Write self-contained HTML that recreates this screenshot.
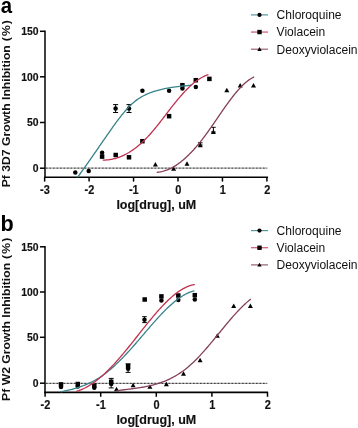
<!DOCTYPE html>
<html><head><meta charset="utf-8"><style>
html,body{margin:0;padding:0;background:#fff;}
svg{display:block}
text{font-family:"Liberation Sans",sans-serif;fill:#111}
.tk{font-size:10.4px;font-weight:bold;stroke:#111;stroke-width:0.15px}
.tkx{font-size:11.0px;font-weight:bold;stroke:#111;stroke-width:0.15px}
.ti{font-size:12.5px;font-weight:bold;stroke:#111;stroke-width:0.15px}
.tiv{font-size:12.2px;font-weight:bold}
.lg{font-size:12.05px}
.pl{font-size:20px;font-weight:bold;fill:#000}
</style></head><body>
<svg width="358" height="428" viewBox="0 0 358 428">
<rect width="358" height="428" fill="#fff"/>
<g opacity="0.999">
<text transform="translate(0.7,12.7) scale(1,1.12)" class="pl" style="font-size:20.4px">a</text>
<path d="M45.0,30.6 V177.95" stroke="#000" stroke-width="1.5" fill="none"/>
<path d="M44.25,177.2 H268.09999999999997" stroke="#000" stroke-width="1.6" fill="none"/>
<path d="M40.0,31.3 H45.0" stroke="#000" stroke-width="1.5" fill="none"/>
<text transform="translate(38.6,35.0) scale(1,1.12)" text-anchor="end" class="tk">150</text>
<path d="M40.0,76.8 H45.0" stroke="#000" stroke-width="1.5" fill="none"/>
<text transform="translate(38.6,80.5) scale(1,1.12)" text-anchor="end" class="tk">100</text>
<path d="M40.0,122.5 H45.0" stroke="#000" stroke-width="1.5" fill="none"/>
<text transform="translate(38.6,126.2) scale(1,1.12)" text-anchor="end" class="tk">50</text>
<path d="M40.0,168.2 H45.0" stroke="#000" stroke-width="1.5" fill="none"/>
<text transform="translate(38.6,171.89999999999998) scale(1,1.12)" text-anchor="end" class="tk">0</text>
<path d="M44.64999999999998,177.2 V181.6" stroke="#000" stroke-width="1.5" fill="none"/>
<text transform="translate(44.949999999999974,193.9) scale(1,1.12)" text-anchor="middle" class="tkx">-3</text>
<path d="M89.1,177.2 V181.6" stroke="#000" stroke-width="1.5" fill="none"/>
<text transform="translate(89.39999999999999,193.9) scale(1,1.12)" text-anchor="middle" class="tkx">-2</text>
<path d="M133.55,177.2 V181.6" stroke="#000" stroke-width="1.5" fill="none"/>
<text transform="translate(133.85000000000002,193.9) scale(1,1.12)" text-anchor="middle" class="tkx">-1</text>
<path d="M178.0,177.2 V181.6" stroke="#000" stroke-width="1.5" fill="none"/>
<text transform="translate(178.3,193.9) scale(1,1.12)" text-anchor="middle" class="tkx">0</text>
<path d="M222.45,177.2 V181.6" stroke="#000" stroke-width="1.5" fill="none"/>
<text transform="translate(222.75,193.9) scale(1,1.12)" text-anchor="middle" class="tkx">1</text>
<path d="M266.9,177.2 V181.6" stroke="#000" stroke-width="1.5" fill="none"/>
<text transform="translate(267.2,193.9) scale(1,1.12)" text-anchor="middle" class="tkx">2</text>
<path d="M46.0,168.2 H267.4" stroke="#000" stroke-width="1.3" stroke-dasharray="0.75,0.65" fill="none"/>
<text transform="translate(156.3,208.5) scale(1,1.0)" text-anchor="middle" class="ti">log[drug], uM</text>
<text transform="translate(10.3,187.3) rotate(-90) scale(1,0.86)" text-anchor="start" class="tiv">Pf 3D7 Growth Inhibition <tspan dx="0.6">(</tspan><tspan dx="1.1">%</tspan><tspan dx="1.0">)</tspan></text>
<path d="M251,14.90 H268" stroke="#38828a" stroke-width="1.1" fill="none" opacity="0.9"/>
<circle cx="259.5" cy="14.9" r="2.1"/>
<text transform="translate(276.6,19.30) scale(1,1.12)" class="lg">Chloroquine</text>
<path d="M251,32.05 H268" stroke="#c0324e" stroke-width="1.1" fill="none" opacity="0.9"/>
<rect x="257.30" y="29.85" width="4.4" height="4.4"/>
<text transform="translate(276.6,36.45) scale(1,1.12)" class="lg">Violacein</text>
<path d="M251,49.20 H268" stroke="#853e5b" stroke-width="1.1" fill="none" opacity="0.9"/>
<path d="M257.30,50.90 L261.70,50.90 L259.50,47.10Z"/>
<text transform="translate(276.6,53.60) scale(1,1.12)" class="lg">Deoxyviolacein</text>
<path d="M115.6,104.6 V112.5 M113.1,104.6 H118.1 M113.1,112.5 H118.1" stroke="#000" stroke-width="1.0" fill="none"/>
<path d="M129.0,104.6 V112.5 M126.5,104.6 H131.5 M126.5,112.5 H131.5" stroke="#000" stroke-width="1.0" fill="none"/>
<circle cx="75.3" cy="172.4" r="2.25"/>
<circle cx="88.7" cy="170.9" r="2.25"/>
<circle cx="102.1" cy="152.8" r="2.25"/>
<circle cx="115.6" cy="108.5" r="2.25"/>
<circle cx="129.0" cy="108.5" r="2.25"/>
<circle cx="142.4" cy="90.7" r="2.25"/>
<circle cx="169.1" cy="90.8" r="2.25"/>
<circle cx="182.4" cy="88.5" r="2.25"/>
<circle cx="195.8" cy="87.0" r="2.25"/>
<rect x="99.85" y="154.35" width="4.5" height="4.5"/>
<rect x="113.45" y="152.75" width="4.5" height="4.5"/>
<rect x="126.75" y="155.05" width="4.5" height="4.5"/>
<rect x="140.15" y="138.95" width="4.5" height="4.5"/>
<rect x="166.85" y="113.95" width="4.5" height="4.5"/>
<rect x="180.15" y="82.95" width="4.5" height="4.5"/>
<rect x="193.55" y="77.95" width="4.5" height="4.5"/>
<rect x="207.15" y="76.65" width="4.5" height="4.5"/>
<path d="M200.3,142.8 V145 M198.0,142.8 H202.60000000000002 M198.0,145 H202.60000000000002" stroke="#000" stroke-width="1.0" fill="none"/>
<path d="M213.4,127.3 V132 M211.1,127.3 H215.70000000000002 M211.1,132 H215.70000000000002" stroke="#000" stroke-width="1.0" fill="none"/>
<path d="M152.90,166.55 L157.90,166.55 L155.40,162.05Z"/>
<path d="M171.10,170.65 L176.10,170.65 L173.60,166.15Z"/>
<path d="M184.50,165.85 L189.50,165.85 L187.00,161.35Z"/>
<path d="M197.80,147.25 L202.80,147.25 L200.30,142.75Z"/>
<path d="M210.90,134.05 L215.90,134.05 L213.40,129.55Z"/>
<path d="M224.30,92.25 L229.30,92.25 L226.80,87.75Z"/>
<path d="M237.70,87.45 L242.70,87.45 L240.20,82.95Z"/>
<path d="M251.00,87.45 L256.00,87.45 L253.50,82.95Z"/>
<path d="M77.40,177.37 L78.36,176.09 L79.32,174.79 L80.28,173.49 L81.24,172.18 L82.19,170.86 L83.15,169.54 L84.11,168.20 L85.07,166.86 L86.03,165.52 L86.99,164.17 L87.95,162.81 L88.91,161.45 L89.86,160.08 L90.82,158.71 L91.78,157.33 L92.74,155.95 L93.70,154.57 L94.66,153.19 L95.62,151.80 L96.58,150.42 L97.54,149.03 L98.49,147.64 L99.45,146.24 L100.41,144.85 L101.37,143.46 L102.33,142.07 L103.29,140.68 L104.25,139.29 L105.21,137.91 L106.16,136.52 L107.12,135.14 L108.08,133.76 L109.04,132.38 L110.00,131.01 L110.96,129.65 L111.92,128.29 L112.88,126.94 L113.84,125.60 L114.79,124.27 L115.75,122.96 L116.71,121.66 L117.67,120.37 L118.63,119.10 L119.59,117.85 L120.55,116.62 L121.51,115.40 L122.46,114.22 L123.42,113.05 L124.38,111.91 L125.34,110.79 L126.30,109.70 L127.26,108.65 L128.22,107.62 L129.18,106.62 L130.14,105.65 L131.09,104.72 L132.05,103.83 L133.01,102.97 L133.97,102.15 L134.93,101.37 L135.89,100.62 L136.85,99.90 L137.81,99.22 L138.76,98.58 L139.72,97.96 L140.68,97.37 L141.64,96.80 L142.60,96.27 L143.56,95.76 L144.52,95.27 L145.48,94.80 L146.44,94.36 L147.39,93.93 L148.35,93.52 L149.31,93.13 L150.27,92.76 L151.23,92.40 L152.19,92.05 L153.15,91.72 L154.11,91.41 L155.06,91.11 L156.02,90.81 L156.98,90.54 L157.94,90.27 L158.90,90.01 L159.86,89.76 L160.82,89.53 L161.78,89.30 L162.74,89.08 L163.69,88.87 L164.65,88.67 L165.61,88.47 L166.57,88.29 L167.53,88.11 L168.49,87.94 L169.45,87.78 L170.41,87.62 L171.36,87.47 L172.32,87.32 L173.28,87.18 L174.24,87.05 L175.20,86.92 L176.16,86.79 L177.12,86.67 L178.08,86.56 L179.04,86.44 L179.99,86.33 L180.95,86.23 L181.91,86.12 L182.87,86.02 L183.83,85.92 L184.79,85.83 L185.75,85.73 L186.71,85.64 L187.66,85.54 L188.62,85.45 L189.58,85.35 L190.54,85.26 L191.50,85.17" stroke="#38828a" stroke-width="1.3" fill="none"/>
<path d="M102.70,160.04 L103.59,160.05 L104.48,160.04 L105.37,160.02 L106.26,159.97 L107.15,159.91 L108.03,159.83 L108.92,159.73 L109.81,159.61 L110.70,159.47 L111.59,159.32 L112.48,159.14 L113.37,158.95 L114.26,158.74 L115.15,158.51 L116.04,158.26 L116.93,157.99 L117.81,157.70 L118.70,157.39 L119.59,157.06 L120.48,156.72 L121.37,156.35 L122.26,155.97 L123.15,155.57 L124.04,155.15 L124.93,154.70 L125.82,154.24 L126.71,153.76 L127.59,153.26 L128.48,152.75 L129.37,152.21 L130.26,151.65 L131.15,151.07 L132.04,150.48 L132.93,149.86 L133.82,149.23 L134.71,148.57 L135.60,147.90 L136.48,147.21 L137.37,146.49 L138.26,145.76 L139.15,145.01 L140.04,144.24 L140.93,143.44 L141.82,142.63 L142.71,141.80 L143.60,140.95 L144.49,140.08 L145.38,139.19 L146.26,138.28 L147.15,137.35 L148.04,136.41 L148.93,135.44 L149.82,134.47 L150.71,133.47 L151.60,132.46 L152.49,131.43 L153.38,130.39 L154.27,129.34 L155.16,128.27 L156.04,127.19 L156.93,126.09 L157.82,124.99 L158.71,123.87 L159.60,122.74 L160.49,121.61 L161.38,120.46 L162.27,119.31 L163.16,118.15 L164.05,116.99 L164.94,115.83 L165.82,114.66 L166.71,113.50 L167.60,112.34 L168.49,111.18 L169.38,110.02 L170.27,108.87 L171.16,107.72 L172.05,106.59 L172.94,105.46 L173.83,104.34 L174.72,103.23 L175.60,102.13 L176.49,101.04 L177.38,99.96 L178.27,98.89 L179.16,97.84 L180.05,96.80 L180.94,95.78 L181.83,94.77 L182.72,93.77 L183.61,92.79 L184.49,91.83 L185.38,90.89 L186.27,89.96 L187.16,89.06 L188.05,88.17 L188.94,87.31 L189.83,86.46 L190.72,85.64 L191.61,84.84 L192.50,84.06 L193.39,83.31 L194.27,82.58 L195.16,81.88 L196.05,81.20 L196.94,80.55 L197.83,79.93 L198.72,79.33 L199.61,78.76 L200.50,78.22 L201.39,77.70 L202.28,77.21 L203.17,76.75 L204.05,76.31 L204.94,75.90 L205.83,75.52 L206.72,75.17 L207.61,74.85 L208.50,74.55" stroke="#c0324e" stroke-width="1.3" fill="none"/>
<path d="M156.70,172.28 L157.52,172.23 L158.34,172.15 L159.16,172.05 L159.97,171.93 L160.79,171.78 L161.61,171.62 L162.43,171.43 L163.25,171.22 L164.07,170.99 L164.88,170.74 L165.70,170.47 L166.52,170.18 L167.34,169.86 L168.16,169.53 L168.98,169.18 L169.80,168.80 L170.61,168.41 L171.43,167.99 L172.25,167.56 L173.07,167.10 L173.89,166.63 L174.71,166.14 L175.53,165.63 L176.34,165.10 L177.16,164.55 L177.98,163.98 L178.80,163.39 L179.62,162.79 L180.44,162.16 L181.25,161.52 L182.07,160.86 L182.89,160.19 L183.71,159.49 L184.53,158.78 L185.35,158.05 L186.17,157.31 L186.98,156.54 L187.80,155.76 L188.62,154.97 L189.44,154.15 L190.26,153.32 L191.08,152.48 L191.89,151.62 L192.71,150.74 L193.53,149.85 L194.35,148.94 L195.17,148.01 L195.99,147.08 L196.81,146.12 L197.62,145.15 L198.44,144.17 L199.26,143.17 L200.08,142.16 L200.90,141.13 L201.72,140.09 L202.54,139.03 L203.35,137.96 L204.17,136.88 L204.99,135.78 L205.81,134.68 L206.63,133.56 L207.45,132.42 L208.26,131.28 L209.08,130.13 L209.90,128.98 L210.72,127.81 L211.54,126.64 L212.36,125.46 L213.18,124.28 L213.99,123.09 L214.81,121.90 L215.63,120.71 L216.45,119.51 L217.27,118.31 L218.09,117.12 L218.91,115.92 L219.72,114.73 L220.54,113.54 L221.36,112.35 L222.18,111.17 L223.00,109.99 L223.82,108.82 L224.63,107.65 L225.45,106.49 L226.27,105.34 L227.09,104.20 L227.91,103.07 L228.73,101.94 L229.55,100.83 L230.36,99.74 L231.18,98.65 L232.00,97.58 L232.82,96.52 L233.64,95.48 L234.46,94.46 L235.27,93.45 L236.09,92.47 L236.91,91.50 L237.73,90.55 L238.55,89.62 L239.37,88.71 L240.19,87.82 L241.00,86.96 L241.82,86.12 L242.64,85.31 L243.46,84.52 L244.28,83.75 L245.10,83.02 L245.92,82.31 L246.73,81.63 L247.55,80.98 L248.37,80.36 L249.19,79.78 L250.01,79.22 L250.83,78.70 L251.64,78.21 L252.46,77.75 L253.28,77.34 L254.10,76.95" stroke="#853e5b" stroke-width="1.3" fill="none"/>
<text transform="translate(0.6,230.6) scale(1,1.05)" class="pl" style="font-size:21.6px">b</text>
<path d="M45.0,246.10000000000002 V393.15" stroke="#000" stroke-width="1.5" fill="none"/>
<path d="M44.25,392.4 H268.09999999999997" stroke="#000" stroke-width="1.6" fill="none"/>
<path d="M40.0,246.8 H45.0" stroke="#000" stroke-width="1.5" fill="none"/>
<text transform="translate(38.6,250.5) scale(1,1.12)" text-anchor="end" class="tk">150</text>
<path d="M40.0,292.0 H45.0" stroke="#000" stroke-width="1.5" fill="none"/>
<text transform="translate(38.6,295.7) scale(1,1.12)" text-anchor="end" class="tk">100</text>
<path d="M40.0,337.3 H45.0" stroke="#000" stroke-width="1.5" fill="none"/>
<text transform="translate(38.6,341.0) scale(1,1.12)" text-anchor="end" class="tk">50</text>
<path d="M40.0,383.2 H45.0" stroke="#000" stroke-width="1.5" fill="none"/>
<text transform="translate(38.6,386.9) scale(1,1.12)" text-anchor="end" class="tk">0</text>
<path d="M45.10000000000001,392.4 V396.79999999999995" stroke="#000" stroke-width="1.5" fill="none"/>
<text transform="translate(45.400000000000006,409.1) scale(1,1.12)" text-anchor="middle" class="tkx">-2</text>
<path d="M100.70000000000002,392.4 V396.79999999999995" stroke="#000" stroke-width="1.5" fill="none"/>
<text transform="translate(101.00000000000001,409.1) scale(1,1.12)" text-anchor="middle" class="tkx">-1</text>
<path d="M156.3,392.4 V396.79999999999995" stroke="#000" stroke-width="1.5" fill="none"/>
<text transform="translate(156.60000000000002,409.1) scale(1,1.12)" text-anchor="middle" class="tkx">0</text>
<path d="M211.9,392.4 V396.79999999999995" stroke="#000" stroke-width="1.5" fill="none"/>
<text transform="translate(212.20000000000002,409.1) scale(1,1.12)" text-anchor="middle" class="tkx">1</text>
<path d="M267.5,392.4 V396.79999999999995" stroke="#000" stroke-width="1.5" fill="none"/>
<text transform="translate(267.8,409.1) scale(1,1.12)" text-anchor="middle" class="tkx">2</text>
<path d="M46.0,383.3 H267.4" stroke="#000" stroke-width="1.3" stroke-dasharray="0.75,0.65" fill="none"/>
<text transform="translate(156.3,424.0) scale(1,1.0)" text-anchor="middle" class="ti">log[drug], uM</text>
<text transform="translate(10.3,400.9) rotate(-90) scale(1,0.86)" text-anchor="start" class="tiv">Pf W2 Growth Inhibition <tspan dx="0.6">(</tspan><tspan dx="1.1">%</tspan><tspan dx="1.0">)</tspan></text>
<path d="M251,230.60 H268" stroke="#38828a" stroke-width="1.1" fill="none" opacity="0.9"/>
<circle cx="259.5" cy="230.6" r="2.1"/>
<text transform="translate(276.6,235.00) scale(1,1.12)" class="lg">Chloroquine</text>
<path d="M251,247.75 H268" stroke="#c0324e" stroke-width="1.1" fill="none" opacity="0.9"/>
<rect x="257.30" y="245.55" width="4.4" height="4.4"/>
<text transform="translate(276.6,252.15) scale(1,1.12)" class="lg">Violacein</text>
<path d="M251,264.90 H268" stroke="#853e5b" stroke-width="1.1" fill="none" opacity="0.9"/>
<path d="M257.30,266.60 L261.70,266.60 L259.50,262.80Z"/>
<text transform="translate(276.6,269.30) scale(1,1.12)" class="lg">Deoxyviolacein</text>
<path d="M111.2,378.4 V387.9 M108.7,378.4 H113.7 M108.7,387.9 H113.7" stroke="#000" stroke-width="1.0" fill="none"/>
<path d="M128.1,363.8 V372.4 M125.6,363.8 H130.6 M125.6,372.4 H130.6" stroke="#000" stroke-width="1.0" fill="none"/>
<path d="M144.5,316.7 V322.6 M142.2,316.7 H146.8 M142.2,322.6 H146.8" stroke="#000" stroke-width="1.0" fill="none"/>
<circle cx="61.0" cy="386.9" r="2.25"/>
<circle cx="77.8" cy="386.5" r="2.25"/>
<circle cx="94.3" cy="387.8" r="2.25"/>
<circle cx="111.2" cy="384.1" r="2.25"/>
<circle cx="128.1" cy="368.7" r="2.25"/>
<circle cx="144.5" cy="319.7" r="2.25"/>
<circle cx="161.4" cy="300.5" r="2.25"/>
<circle cx="178.3" cy="300.0" r="2.25"/>
<circle cx="194.8" cy="299.6" r="2.25"/>
<rect x="58.75" y="382.15" width="4.5" height="4.5"/>
<rect x="75.55" y="381.75" width="4.5" height="4.5"/>
<rect x="92.05" y="383.35" width="4.5" height="4.5"/>
<rect x="108.95" y="379.55" width="4.5" height="4.5"/>
<rect x="125.85" y="363.95" width="4.5" height="4.5"/>
<rect x="142.45" y="297.25" width="4.5" height="4.5"/>
<rect x="159.15" y="294.15" width="4.5" height="4.5"/>
<rect x="176.05" y="293.25" width="4.5" height="4.5"/>
<rect x="192.55" y="292.95" width="4.5" height="4.5"/>
<path d="M114.00,391.25 L119.00,391.25 L116.50,386.75Z"/>
<path d="M130.60,387.15 L135.60,387.15 L133.10,382.65Z"/>
<path d="M147.40,388.85 L152.40,388.85 L149.90,384.35Z"/>
<path d="M163.90,386.15 L168.90,386.15 L166.40,381.65Z"/>
<path d="M181.00,375.75 L186.00,375.75 L183.50,371.25Z"/>
<path d="M197.60,362.15 L202.60,362.15 L200.10,357.65Z"/>
<path d="M214.80,337.65 L219.80,337.65 L217.30,333.15Z"/>
<path d="M231.20,308.05 L236.20,308.05 L233.70,303.55Z"/>
<path d="M247.90,308.05 L252.90,308.05 L250.40,303.55Z"/>
<path d="M60.60,391.92 L61.72,391.69 L62.85,391.46 L63.97,391.22 L65.10,390.97 L66.22,390.72 L67.35,390.46 L68.47,390.19 L69.59,389.92 L70.72,389.63 L71.84,389.34 L72.97,389.04 L74.09,388.72 L75.22,388.40 L76.34,388.06 L77.47,387.71 L78.59,387.35 L79.71,386.98 L80.84,386.59 L81.96,386.18 L83.09,385.76 L84.21,385.33 L85.34,384.88 L86.46,384.41 L87.58,383.92 L88.71,383.42 L89.83,382.90 L90.96,382.35 L92.08,381.79 L93.21,381.21 L94.33,380.61 L95.46,379.98 L96.58,379.33 L97.70,378.66 L98.83,377.97 L99.95,377.25 L101.08,376.50 L102.20,375.73 L103.33,374.94 L104.45,374.12 L105.57,373.27 L106.70,372.40 L107.82,371.51 L108.95,370.59 L110.07,369.65 L111.20,368.69 L112.32,367.71 L113.45,366.71 L114.57,365.68 L115.69,364.64 L116.82,363.58 L117.94,362.50 L119.07,361.40 L120.19,360.28 L121.32,359.15 L122.44,358.01 L123.56,356.84 L124.69,355.67 L125.81,354.47 L126.94,353.27 L128.06,352.05 L129.19,350.82 L130.31,349.58 L131.44,348.33 L132.56,347.07 L133.68,345.79 L134.81,344.51 L135.93,343.22 L137.06,341.93 L138.18,340.62 L139.31,339.32 L140.43,338.01 L141.55,336.69 L142.68,335.37 L143.80,334.06 L144.93,332.74 L146.05,331.42 L147.18,330.11 L148.30,328.80 L149.43,327.49 L150.55,326.19 L151.67,324.90 L152.80,323.61 L153.92,322.34 L155.05,321.07 L156.17,319.81 L157.30,318.56 L158.42,317.33 L159.54,316.11 L160.67,314.91 L161.79,313.72 L162.92,312.54 L164.04,311.39 L165.17,310.25 L166.29,309.14 L167.42,308.05 L168.54,306.97 L169.66,305.92 L170.79,304.90 L171.91,303.90 L173.04,302.93 L174.16,301.98 L175.29,301.06 L176.41,300.17 L177.53,299.32 L178.66,298.49 L179.78,297.70 L180.91,296.94 L182.03,296.21 L183.16,295.52 L184.28,294.87 L185.41,294.25 L186.53,293.67 L187.65,293.14 L188.78,292.64 L189.90,292.18 L191.03,291.77 L192.15,291.41 L193.28,291.08 L194.40,290.81" stroke="#38828a" stroke-width="1.3" fill="none"/>
<path d="M75.90,391.49 L76.90,391.21 L77.90,390.89 L78.90,390.55 L79.90,390.18 L80.90,389.79 L81.89,389.38 L82.89,388.93 L83.89,388.47 L84.89,387.98 L85.89,387.46 L86.89,386.92 L87.89,386.36 L88.89,385.77 L89.89,385.16 L90.89,384.53 L91.89,383.88 L92.89,383.20 L93.88,382.50 L94.88,381.78 L95.88,381.04 L96.88,380.28 L97.88,379.49 L98.88,378.69 L99.88,377.86 L100.88,377.02 L101.88,376.15 L102.88,375.27 L103.88,374.36 L104.88,373.44 L105.87,372.50 L106.87,371.54 L107.87,370.56 L108.87,369.57 L109.87,368.56 L110.87,367.53 L111.87,366.48 L112.87,365.42 L113.87,364.34 L114.87,363.25 L115.87,362.14 L116.87,361.03 L117.86,359.89 L118.86,358.75 L119.86,357.60 L120.86,356.43 L121.86,355.25 L122.86,354.07 L123.86,352.87 L124.86,351.67 L125.86,350.45 L126.86,349.23 L127.86,348.01 L128.86,346.77 L129.85,345.53 L130.85,344.29 L131.85,343.04 L132.85,341.79 L133.85,340.53 L134.85,339.27 L135.85,338.01 L136.85,336.75 L137.85,335.49 L138.85,334.22 L139.85,332.96 L140.85,331.70 L141.84,330.43 L142.84,329.18 L143.84,327.92 L144.84,326.67 L145.84,325.42 L146.84,324.18 L147.84,322.94 L148.84,321.71 L149.84,320.49 L150.84,319.27 L151.84,318.07 L152.84,316.87 L153.83,315.68 L154.83,314.51 L155.83,313.34 L156.83,312.19 L157.83,311.05 L158.83,309.93 L159.83,308.82 L160.83,307.72 L161.83,306.64 L162.83,305.58 L163.83,304.53 L164.83,303.51 L165.82,302.50 L166.82,301.51 L167.82,300.54 L168.82,299.59 L169.82,298.66 L170.82,297.76 L171.82,296.87 L172.82,296.02 L173.82,295.18 L174.82,294.37 L175.82,293.59 L176.82,292.83 L177.81,292.10 L178.81,291.40 L179.81,290.73 L180.81,290.09 L181.81,289.47 L182.81,288.89 L183.81,288.34 L184.81,287.82 L185.81,287.33 L186.81,286.88 L187.81,286.46 L188.81,286.08 L189.80,285.73 L190.80,285.42 L191.80,285.15 L192.80,284.91 L193.80,284.72 L194.80,284.56" stroke="#c0324e" stroke-width="1.3" fill="none"/>
<path d="M116.40,390.73 L117.53,390.58 L118.66,390.43 L119.79,390.29 L120.91,390.15 L122.04,390.01 L123.17,389.87 L124.30,389.74 L125.43,389.60 L126.56,389.46 L127.69,389.33 L128.81,389.19 L129.94,389.05 L131.07,388.91 L132.20,388.76 L133.33,388.61 L134.46,388.46 L135.59,388.31 L136.71,388.14 L137.84,387.98 L138.97,387.81 L140.10,387.63 L141.23,387.44 L142.36,387.25 L143.49,387.05 L144.61,386.84 L145.74,386.62 L146.87,386.39 L148.00,386.16 L149.13,385.91 L150.26,385.65 L151.39,385.38 L152.51,385.10 L153.64,384.80 L154.77,384.49 L155.90,384.17 L157.03,383.84 L158.16,383.48 L159.29,383.12 L160.41,382.74 L161.54,382.34 L162.67,381.92 L163.80,381.49 L164.93,381.04 L166.06,380.57 L167.19,380.09 L168.31,379.58 L169.44,379.06 L170.57,378.51 L171.70,377.94 L172.83,377.35 L173.96,376.74 L175.09,376.11 L176.21,375.45 L177.34,374.77 L178.47,374.07 L179.60,373.34 L180.73,372.59 L181.86,371.81 L182.99,371.01 L184.11,370.17 L185.24,369.32 L186.37,368.43 L187.50,367.52 L188.63,366.57 L189.76,365.60 L190.89,364.60 L192.01,363.57 L193.14,362.51 L194.27,361.42 L195.40,360.31 L196.53,359.17 L197.66,358.01 L198.79,356.83 L199.91,355.63 L201.04,354.40 L202.17,353.16 L203.30,351.90 L204.43,350.63 L205.56,349.34 L206.69,348.03 L207.81,346.72 L208.94,345.39 L210.07,344.05 L211.20,342.70 L212.33,341.34 L213.46,339.98 L214.59,338.61 L215.71,337.24 L216.84,335.86 L217.97,334.49 L219.10,333.11 L220.23,331.73 L221.36,330.35 L222.49,328.98 L223.61,327.61 L224.74,326.25 L225.87,324.89 L227.00,323.54 L228.13,322.20 L229.26,320.86 L230.39,319.54 L231.51,318.23 L232.64,316.94 L233.77,315.66 L234.90,314.39 L236.03,313.15 L237.16,311.92 L238.29,310.71 L239.41,309.52 L240.54,308.35 L241.67,307.21 L242.80,306.09 L243.93,304.99 L245.06,303.93 L246.19,302.89 L247.31,301.87 L248.44,300.89 L249.57,299.94 L250.70,299.03" stroke="#853e5b" stroke-width="1.3" fill="none"/>
</g>
</svg></body></html>
